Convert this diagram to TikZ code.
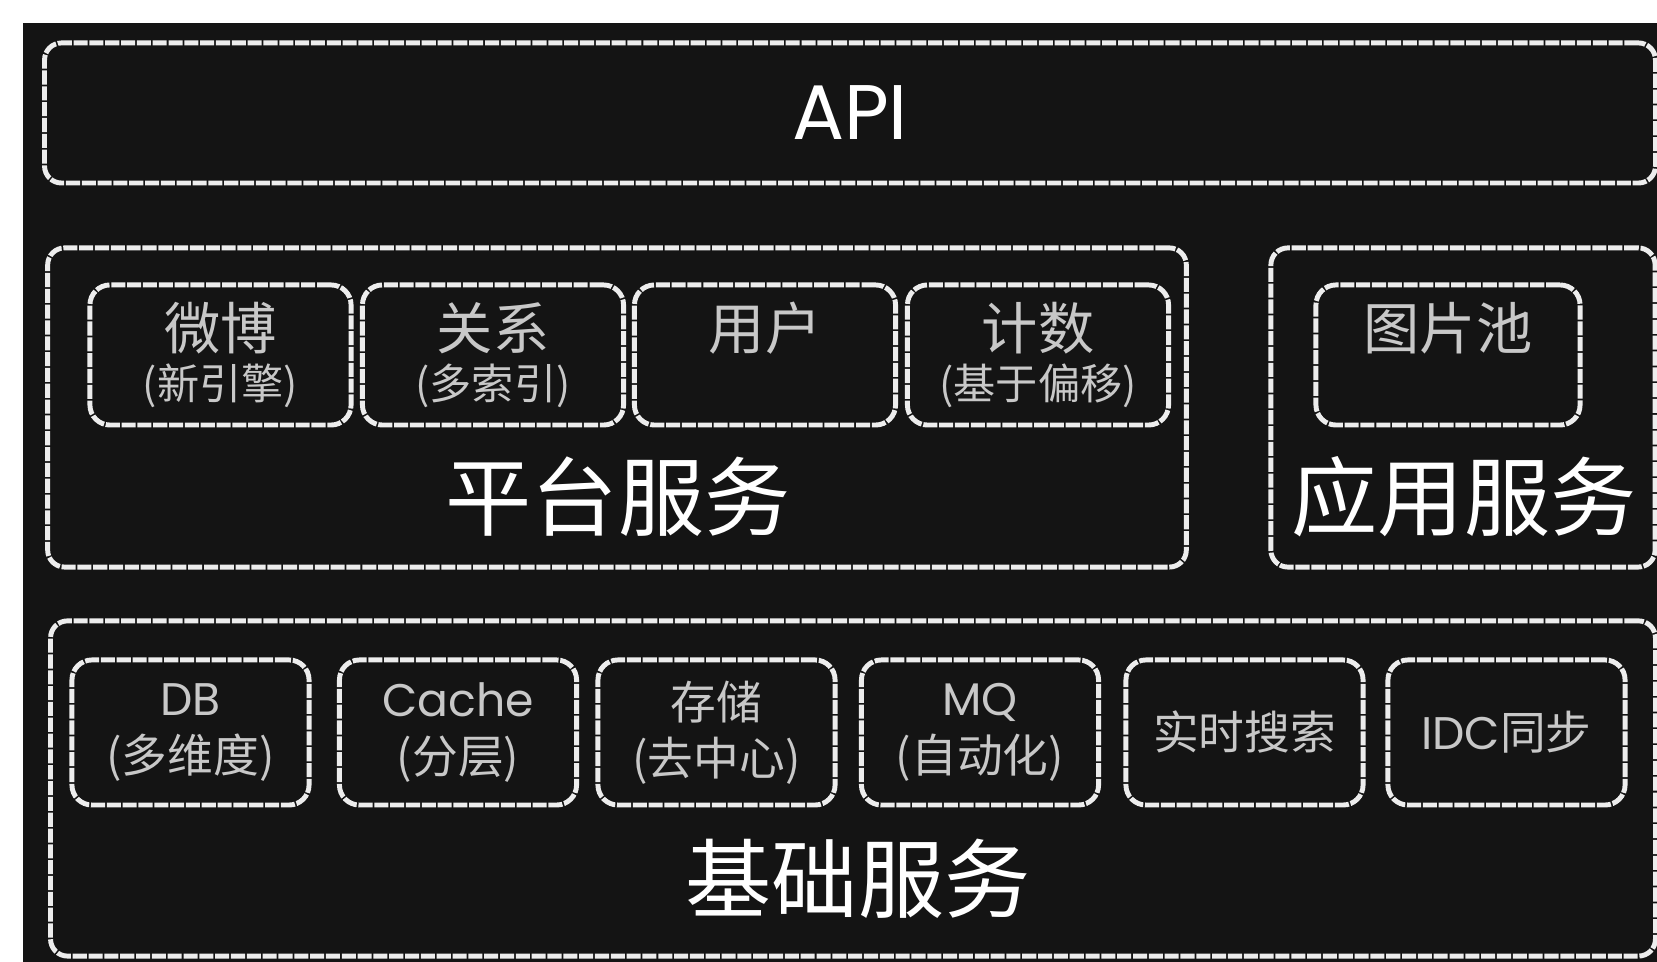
\documentclass[tikz,border=0pt]{standalone}
\usepackage{fontspec}
\setmainfont{Noto Sans CJK SC}
\newfontfamily\latinfont{Poppins}
\definecolor{bgblack}{HTML}{141414}
\definecolor{chalk}{HTML}{EDEDED}
\definecolor{ash}{HTML}{C8C8C8}
\newcommand{\subline}[1]{{\fontsize{12}{14}\selectfont #1}}
\tikzset{
  frame/.style={draw=chalk, line width=1.4pt, dash pattern=on 4pt off 0.5pt, rounded corners=0.17cm},
  layer/.style={frame, minimum height=3.19cm},
  tile/.style={frame, rounded corners=0.2cm, text=ash, align=center, inner sep=0pt},
  ptile/.style={tile, minimum width=2.61cm, minimum height=1.4cm, font=\fontsize{16}{19}\selectfont},
  btile/.style={tile, minimum width=2.37cm, minimum height=1.45cm, font=\fontsize{13}{16}\selectfont},
  title/.style={text=white, inner sep=0pt, font=\fontsize{24.5}{28}\selectfont}
}
\begin{document}
\begin{tikzpicture}[x=0.01cm, y=-0.01cm]
  \useasboundingbox (0,0) rectangle (1657,962);
  \fill[bgblack] (23,23) rectangle (1657,962);

  % API layer
  \node[frame, minimum width=16.1cm, minimum height=1.4cm, text=white,
        font=\latinfont\fontsize{22}{26}\selectfont] (api) at (850,113) {API};

  % platform and application layers
  \node[layer, minimum width=11.38cm] (plat) at (617,407.5) {};
  \node[layer, minimum width=3.84cm] (app) at (1463,407.5) {};
  \node[ptile] (weibo) at (220.5,355) {微博\\[-4.8pt]\subline{(新引擎)}};
  \node[ptile] (rel) at (493,355) {关系\\[-4.8pt]\subline{(多索引)}};
  \node[ptile] (user) at (765,355) {用户\\[-4.8pt]\subline{\phantom{(户)}}};
  \node[ptile] (count) at (1038,355) {计数\\[-4.8pt]\subline{(基于偏移)}};
  \node[ptile, minimum width=2.64cm] (pics) at (1448,355) {图片池\\[-4.8pt]\subline{\phantom{(户)}}};
  \node[title] (platT) at (618,497) {平台服务};
  \node[title] (appT) at (1464,497) {应用服务};

  % base layer
  \node[layer, minimum width=16.04cm, minimum height=3.35cm] (base) at (853,788.5) {};
  \node[btile] (db) at (190.5,732.5) {{\latinfont DB}\\[0pt](多维度)};
  \node[btile] (cache) at (458,732.5) {{\latinfont Cache}\\[0pt](分层)};
  \node[btile] (store) at (716.5,732.5) {存储\\[0pt](去中心)};
  \node[btile] (mq) at (980,732.5) {{\latinfont MQ}\\[0pt](自动化)};
  \node[btile] (search) at (1244.5,732.5) {实时搜索};
  \node[btile] (idc) at (1506.5,732.5) {{\latinfont IDC}同步};
  \node[title] (baseT) at (858,879) {基础服务};
\end{tikzpicture}
\end{document}
